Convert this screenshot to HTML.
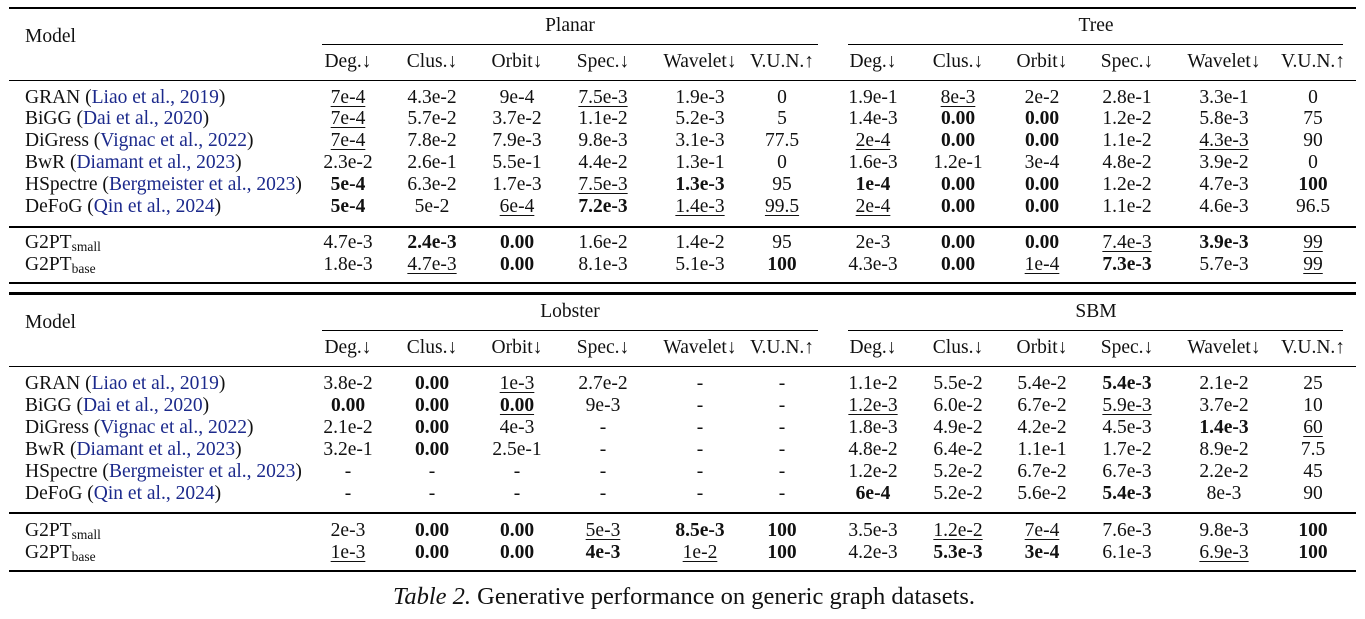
<!DOCTYPE html>
<html><head><meta charset="utf-8"><style>
body{margin:0;width:1365px;height:619px;background:#fff;position:relative;overflow:hidden;font-family:"Liberation Serif",serif;font-size:19.5px;color:#111}
.r{position:absolute;left:0;width:1365px;height:22px;line-height:22px}
.r span{position:absolute;transform:translateX(-50%);white-space:nowrap}
.r .m{transform:none;left:25px}
.l{position:absolute;background:#000}
a{color:#1c2a8c;text-decoration:none}
u{text-decoration:underline;text-underline-offset:3px;text-decoration-thickness:1px}
sub{font-size:13.5px;vertical-align:-3px;line-height:0}
.c1{left:348px}.c2{left:432px}.c3{left:517px}.c4{left:603px}.c5{left:700px}.c6{left:782px}
.c7{left:873px}.c8{left:958px}.c9{left:1042px}.c10{left:1127px}.c11{left:1224px}.c12{left:1313px}
</style></head><body>
<div class="l" style="left:9px;width:1347px;top:7px;height:2px"></div>
<div class="r" style="top:15px"><span style="left:570px">Planar</span><span style="left:1096px">Tree</span></div>
<div class="r" style="top:26px"><span class="m">Model</span></div>
<div class="l" style="left:322px;width:496px;top:44px;height:1px"></div>
<div class="l" style="left:848px;width:495px;top:44px;height:1px"></div>
<div class="r" style="top:51px"><span class="c1">Deg.↓</span><span class="c2">Clus.↓</span><span class="c3">Orbit↓</span><span class="c4">Spec.↓</span><span class="c5">Wavelet↓</span><span class="c6">V.U.N.↑</span><span class="c7">Deg.↓</span><span class="c8">Clus.↓</span><span class="c9">Orbit↓</span><span class="c10">Spec.↓</span><span class="c11">Wavelet↓</span><span class="c12">V.U.N.↑</span></div>
<div class="l" style="left:9px;width:1347px;top:80px;height:1px"></div>

<div class="r" style="top:87px"><span class="m">GRAN (<a>Liao et al., 2019</a>)</span><span class="c1"><u>7e-4</u></span><span class="c2">4.3e-2</span><span class="c3">9e-4</span><span class="c4"><u>7.5e-3</u></span><span class="c5">1.9e-3</span><span class="c6">0</span><span class="c7">1.9e-1</span><span class="c8"><u>8e-3</u></span><span class="c9">2e-2</span><span class="c10">2.8e-1</span><span class="c11">3.3e-1</span><span class="c12">0</span></div>
<div class="r" style="top:108px"><span class="m">BiGG (<a>Dai et al., 2020</a>)</span><span class="c1"><u>7e-4</u></span><span class="c2">5.7e-2</span><span class="c3">3.7e-2</span><span class="c4">1.1e-2</span><span class="c5">5.2e-3</span><span class="c6">5</span><span class="c7">1.4e-3</span><span class="c8"><b>0.00</b></span><span class="c9"><b>0.00</b></span><span class="c10">1.2e-2</span><span class="c11">5.8e-3</span><span class="c12">75</span></div>
<div class="r" style="top:130px"><span class="m">DiGress (<a>Vignac et al., 2022</a>)</span><span class="c1"><u>7e-4</u></span><span class="c2">7.8e-2</span><span class="c3">7.9e-3</span><span class="c4">9.8e-3</span><span class="c5">3.1e-3</span><span class="c6">77.5</span><span class="c7"><u>2e-4</u></span><span class="c8"><b>0.00</b></span><span class="c9"><b>0.00</b></span><span class="c10">1.1e-2</span><span class="c11"><u>4.3e-3</u></span><span class="c12">90</span></div>
<div class="r" style="top:152px"><span class="m">BwR (<a>Diamant et al., 2023</a>)</span><span class="c1">2.3e-2</span><span class="c2">2.6e-1</span><span class="c3">5.5e-1</span><span class="c4">4.4e-2</span><span class="c5">1.3e-1</span><span class="c6">0</span><span class="c7">1.6e-3</span><span class="c8">1.2e-1</span><span class="c9">3e-4</span><span class="c10">4.8e-2</span><span class="c11">3.9e-2</span><span class="c12">0</span></div>
<div class="r" style="top:174px"><span class="m">HSpectre (<a>Bergmeister et al., 2023</a>)</span><span class="c1"><b>5e-4</b></span><span class="c2">6.3e-2</span><span class="c3">1.7e-3</span><span class="c4"><u>7.5e-3</u></span><span class="c5"><b>1.3e-3</b></span><span class="c6">95</span><span class="c7"><b>1e-4</b></span><span class="c8"><b>0.00</b></span><span class="c9"><b>0.00</b></span><span class="c10">1.2e-2</span><span class="c11">4.7e-3</span><span class="c12"><b>100</b></span></div>
<div class="r" style="top:196px"><span class="m">DeFoG (<a>Qin et al., 2024</a>)</span><span class="c1"><b>5e-4</b></span><span class="c2">5e-2</span><span class="c3"><u>6e-4</u></span><span class="c4"><b>7.2e-3</b></span><span class="c5"><u>1.4e-3</u></span><span class="c6"><u>99.5</u></span><span class="c7"><u>2e-4</u></span><span class="c8"><b>0.00</b></span><span class="c9"><b>0.00</b></span><span class="c10">1.1e-2</span><span class="c11">4.6e-3</span><span class="c12">96.5</span></div>
<div class="l" style="left:9px;width:1347px;top:226px;height:2px"></div>
<div class="r" style="top:232px"><span class="m">G2PT<sub>small</sub></span><span class="c1">4.7e-3</span><span class="c2"><b>2.4e-3</b></span><span class="c3"><b>0.00</b></span><span class="c4">1.6e-2</span><span class="c5">1.4e-2</span><span class="c6">95</span><span class="c7">2e-3</span><span class="c8"><b>0.00</b></span><span class="c9"><b>0.00</b></span><span class="c10"><u>7.4e-3</u></span><span class="c11"><b>3.9e-3</b></span><span class="c12"><u>99</u></span></div>
<div class="r" style="top:254px"><span class="m">G2PT<sub>base</sub></span><span class="c1">1.8e-3</span><span class="c2"><u>4.7e-3</u></span><span class="c3"><b>0.00</b></span><span class="c4">8.1e-3</span><span class="c5">5.1e-3</span><span class="c6"><b>100</b></span><span class="c7">4.3e-3</span><span class="c8"><b>0.00</b></span><span class="c9"><u>1e-4</u></span><span class="c10"><b>7.3e-3</b></span><span class="c11">5.7e-3</span><span class="c12"><u>99</u></span></div>
<div class="l" style="left:9px;width:1347px;top:282px;height:2px"></div>
<div class="l" style="left:9px;width:1347px;top:292px;height:3px"></div>

<div class="r" style="top:301px"><span style="left:570px">Lobster</span><span style="left:1096px">SBM</span></div>
<div class="r" style="top:312px"><span class="m">Model</span></div>
<div class="l" style="left:322px;width:496px;top:330px;height:1px"></div>
<div class="l" style="left:848px;width:495px;top:330px;height:1px"></div>
<div class="r" style="top:337px"><span class="c1">Deg.↓</span><span class="c2">Clus.↓</span><span class="c3">Orbit↓</span><span class="c4">Spec.↓</span><span class="c5">Wavelet↓</span><span class="c6">V.U.N.↑</span><span class="c7">Deg.↓</span><span class="c8">Clus.↓</span><span class="c9">Orbit↓</span><span class="c10">Spec.↓</span><span class="c11">Wavelet↓</span><span class="c12">V.U.N.↑</span></div>
<div class="l" style="left:9px;width:1347px;top:366px;height:1px"></div>

<div class="r" style="top:373px"><span class="m">GRAN (<a>Liao et al., 2019</a>)</span><span class="c1">3.8e-2</span><span class="c2"><b>0.00</b></span><span class="c3"><u>1e-3</u></span><span class="c4">2.7e-2</span><span class="c5">-</span><span class="c6">-</span><span class="c7">1.1e-2</span><span class="c8">5.5e-2</span><span class="c9">5.4e-2</span><span class="c10"><b>5.4e-3</b></span><span class="c11">2.1e-2</span><span class="c12">25</span></div>
<div class="r" style="top:395px"><span class="m">BiGG (<a>Dai et al., 2020</a>)</span><span class="c1"><b>0.00</b></span><span class="c2"><b>0.00</b></span><span class="c3"><b><u>0.00</u></b></span><span class="c4">9e-3</span><span class="c5">-</span><span class="c6">-</span><span class="c7"><u>1.2e-3</u></span><span class="c8">6.0e-2</span><span class="c9">6.7e-2</span><span class="c10"><u>5.9e-3</u></span><span class="c11">3.7e-2</span><span class="c12">10</span></div>
<div class="r" style="top:417px"><span class="m">DiGress (<a>Vignac et al., 2022</a>)</span><span class="c1">2.1e-2</span><span class="c2"><b>0.00</b></span><span class="c3">4e-3</span><span class="c4">-</span><span class="c5">-</span><span class="c6">-</span><span class="c7">1.8e-3</span><span class="c8">4.9e-2</span><span class="c9">4.2e-2</span><span class="c10">4.5e-3</span><span class="c11"><b>1.4e-3</b></span><span class="c12"><u>60</u></span></div>
<div class="r" style="top:439px"><span class="m">BwR (<a>Diamant et al., 2023</a>)</span><span class="c1">3.2e-1</span><span class="c2"><b>0.00</b></span><span class="c3">2.5e-1</span><span class="c4">-</span><span class="c5">-</span><span class="c6">-</span><span class="c7">4.8e-2</span><span class="c8">6.4e-2</span><span class="c9">1.1e-1</span><span class="c10">1.7e-2</span><span class="c11">8.9e-2</span><span class="c12">7.5</span></div>
<div class="r" style="top:461px"><span class="m">HSpectre (<a>Bergmeister et al., 2023</a>)</span><span class="c1">-</span><span class="c2">-</span><span class="c3">-</span><span class="c4">-</span><span class="c5">-</span><span class="c6">-</span><span class="c7">1.2e-2</span><span class="c8">5.2e-2</span><span class="c9">6.7e-2</span><span class="c10">6.7e-3</span><span class="c11">2.2e-2</span><span class="c12">45</span></div>
<div class="r" style="top:483px"><span class="m">DeFoG (<a>Qin et al., 2024</a>)</span><span class="c1">-</span><span class="c2">-</span><span class="c3">-</span><span class="c4">-</span><span class="c5">-</span><span class="c6">-</span><span class="c7"><b>6e-4</b></span><span class="c8">5.2e-2</span><span class="c9">5.6e-2</span><span class="c10"><b>5.4e-3</b></span><span class="c11">8e-3</span><span class="c12">90</span></div>
<div class="l" style="left:9px;width:1347px;top:512px;height:2px"></div>
<div class="r" style="top:520px"><span class="m">G2PT<sub>small</sub></span><span class="c1">2e-3</span><span class="c2"><b>0.00</b></span><span class="c3"><b>0.00</b></span><span class="c4"><u>5e-3</u></span><span class="c5"><b>8.5e-3</b></span><span class="c6"><b>100</b></span><span class="c7">3.5e-3</span><span class="c8"><u>1.2e-2</u></span><span class="c9"><u>7e-4</u></span><span class="c10">7.6e-3</span><span class="c11">9.8e-3</span><span class="c12"><b>100</b></span></div>
<div class="r" style="top:542px"><span class="m">G2PT<sub>base</sub></span><span class="c1"><u>1e-3</u></span><span class="c2"><b>0.00</b></span><span class="c3"><b>0.00</b></span><span class="c4"><b>4e-3</b></span><span class="c5"><u>1e-2</u></span><span class="c6"><b>100</b></span><span class="c7">4.2e-3</span><span class="c8"><b>5.3e-3</b></span><span class="c9"><b>3e-4</b></span><span class="c10">6.1e-3</span><span class="c11"><u>6.9e-3</u></span><span class="c12"><b>100</b></span></div>
<div class="l" style="left:9px;width:1347px;top:570px;height:2px"></div>

<div class="r" style="top:582px;height:30px;line-height:30px;font-size:24.5px"><span style="left:684px"><i>Table 2.</i> Generative performance on generic graph datasets.</span></div>
</body></html>
